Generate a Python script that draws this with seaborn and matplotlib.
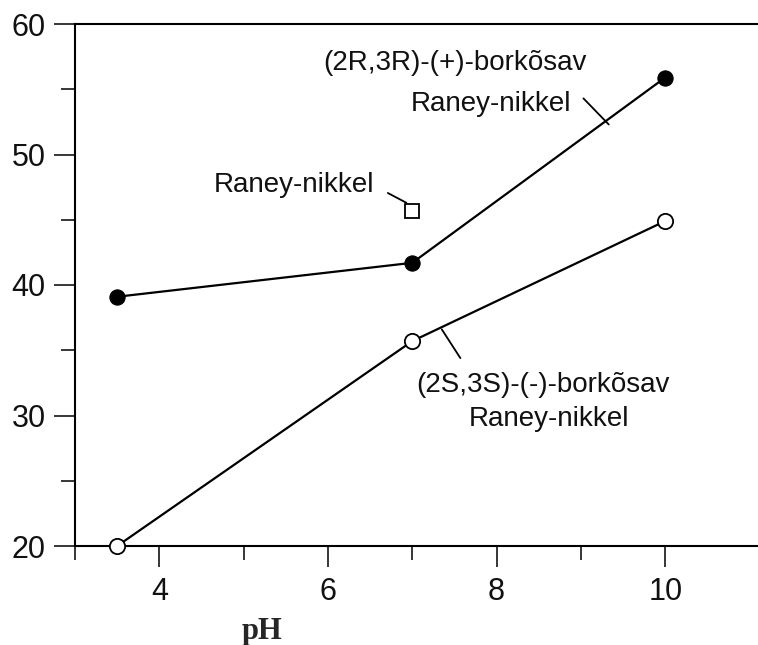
import numpy as np
import pandas as pd
import matplotlib
matplotlib.use("Agg")
import matplotlib.pyplot as plt
import seaborn as sns
from matplotlib.ticker import FixedLocator

# Data
ph_values = [3.5, 7.0, 10.0]
rr_yield = [39.1, 41.7, 55.9]      # (2R,3R)-(+)-borkõsav, filled circles
ss_yield = [20.0, 35.7, 44.9]      # (2S,3S)-(-)-borkõsav, open circles
single_ph = [7.0]
single_yield = [45.7]              # open square

x_ticks = [4, 6, 8, 10]
x_minor = [3, 5, 7, 9]
y_ticks = [20, 30, 40, 50, 60]
y_minor = [25, 35, 45, 55]

sns.set_style("ticks")
plt.rcParams['font.family'] = ['Liberation Sans', 'DejaVu Sans']

fig = plt.figure(figsize=(7.58, 6.45), dpi=100)
ax = fig.add_axes([75 / 758, 99 / 645, 683 / 758, 522 / 645])

df_rr = pd.DataFrame({"pH": ph_values, "y": rr_yield})
df_ss = pd.DataFrame({"pH": ph_values, "y": ss_yield})

sns.lineplot(data=df_rr, x="pH", y="y", ax=ax, color="black", linewidth=1.6,
             marker="o", markersize=11, markerfacecolor="black",
             markeredgecolor="black", clip_on=False, zorder=3)
sns.lineplot(data=df_ss, x="pH", y="y", ax=ax, color="black", linewidth=1.6,
             marker="o", markersize=11, markerfacecolor="white",
             markeredgecolor="black", markeredgewidth=1.3, clip_on=False, zorder=3)
ax.plot(single_ph, single_yield, linestyle="none", marker="s", markersize=10,
        markerfacecolor="white", markeredgecolor="black", markeredgewidth=1.3,
        zorder=3)

ax.set_xlim(3, 11.1)
ax.set_ylim(20, 60)
ax.set_xticks(x_ticks)
ax.set_yticks(y_ticks)
ax.xaxis.set_minor_locator(FixedLocator(x_minor))
ax.yaxis.set_minor_locator(FixedLocator(y_minor))

ax.tick_params(which="major", direction="out", length=15, width=1.1,
               labelsize=22, color="black", labelcolor="#111111")
ax.tick_params(which="minor", direction="out", length=10, width=1.1, color="black")
ax.tick_params(axis="x", which="major", pad=7)
ax.tick_params(axis="y", which="major", pad=6)

for side in ["left", "bottom", "top"]:
    ax.spines[side].set_linewidth(1.5)
    ax.spines[side].set_color("black")
ax.spines["right"].set_visible(False)

ax.set_xlabel("")
ax.set_ylabel("")

# Labels and leader lines
txt = dict(fontsize=20, color="#111111", ha="center", va="center")
ax.text(7.51, 57.0, "(2R,3R)-(+)-borkõsav", **txt)
ax.text(7.93, 53.9, "Raney-nikkel", **txt)
ax.text(5.60, 47.7, "Raney-nikkel", **txt)
ax.text(8.55, 32.3, "(2S,3S)-(-)-borkõsav", **txt)
ax.text(8.62, 29.7, "Raney-nikkel", **txt)

lead = dict(color="black", linewidth=1.3)
ax.plot([9.03, 9.33], [54.3, 52.3], **lead)
ax.plot([6.71, 6.93], [47.05, 46.3], **lead)
ax.plot([7.35, 7.57], [36.6, 34.4], **lead)

fig.text(262 / 758, 1 - 632 / 645, "pH", fontsize=22, fontweight="bold",
         family=["Liberation Serif", "DejaVu Serif"], ha="center", va="center")

fig.savefig("out.png", dpi=100)
